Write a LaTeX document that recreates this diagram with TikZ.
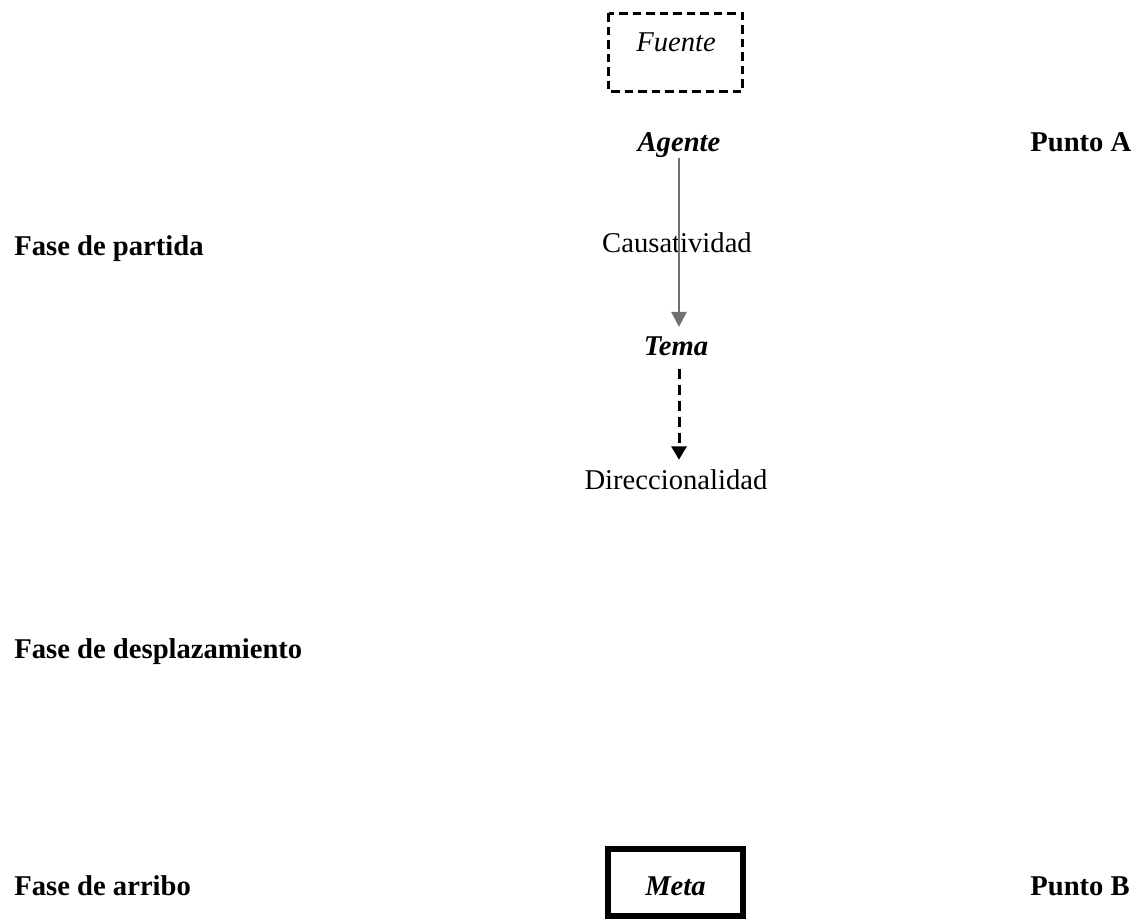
\documentclass[tikz,border=0pt]{standalone}
\usepackage{fontspec}
\setmainfont{Liberation Serif}
\usetikzlibrary{arrows.meta}

\definecolor{flechagris}{HTML}{707070}

\tikzset{
  lbl/.style={font=\fontsize{16.3pt}{19pt}\selectfont, inner sep=0pt, anchor=base},
  fase/.style={lbl, font=\fontsize{16.3pt}{19pt}\selectfont\bfseries, anchor=base west},
  rol/.style={lbl, font=\fontsize{16.3pt}{19pt}\selectfont\bfseries\itshape},
}

\begin{document}
\begin{tikzpicture}[x=0.02cm, y=-0.02cm]

\useasboundingbox (0,0) rectangle (1136,919);

% fuente
\draw[line width=0.06cm, dash pattern=on 0.17cm off 0.1cm] (608.5,13.5) rectangle (742.5,91.5);
\node[lbl, font=\fontsize{16.3pt}{19pt}\selectfont\itshape] (fuente) at (676,52) {Fuente};

\node[rol] (agente) at (679,152) {Agente};
\node[fase] (puntoA) at (1030,152) {Punto A};

\node[fase] (partida) at (14,255) {Fase de partida};
\node[lbl] (causa) at (677,252) {Causatividad};

\node[rol] (tema) at (676,355) {Tema};
\node[lbl] (dir) at (676,489) {Direccionalidad};

\draw[line width=0.05cm, flechagris, -{Triangle[length=0.3cm, width=0.3cm]}, shorten >=0.18cm]
  (agente.south) -- (agente.south |- tema.north);
\draw[line width=0.06cm, dash pattern=on 0.2cm off 0.12cm, -{Triangle[length=0.27cm, width=0.3cm]}, shorten <=0.26cm, shorten >=0.18cm]
  (agente.south |- tema.south) -- (agente.south |- dir.north);

\node[fase] (despl) at (14,658) {Fase de desplazamiento};

\node[fase] (arribo) at (14,895) {Fase de arribo};
\node[draw, line width=0.12cm, minimum width=2.7cm, minimum height=1.34cm, inner sep=0pt] (metabox) at (675.5,882.5) {};
\node[rol] (meta) at (675.5,895) {Meta};
\node[fase] (puntoB) at (1030,895) {Punto B};

\end{tikzpicture}
\end{document}
